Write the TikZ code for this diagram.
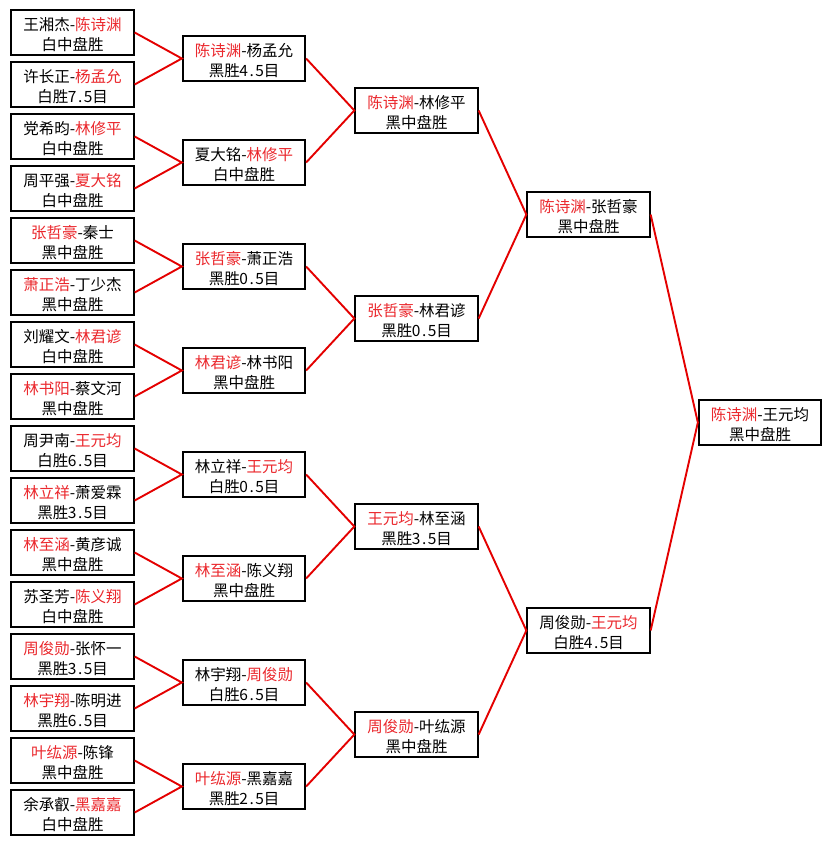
\documentclass[tikz,border=0pt]{standalone}
\usepackage{fontspec}
\setmainfont{Noto Sans CJK SC}
\definecolor{wred}{RGB}{235,40,45}
\definecolor{lred}{RGB}{228,0,0}
\newcommand\R[1]{\textcolor{wred}{#1}}
\newcommand\hw[1]{\makebox[8pt]{#1}}
\newcommand\G[4]{\node[game] (#1) at (#2,#3) {}; \node[gtext] at ([yshift=-2.5pt]#1.center) {#4};}
\tikzset{
  game/.style={draw=black, line width=1.8pt, fill=white, rectangle, minimum width=122.5pt, minimum height=44.5pt, inner sep=0pt},
  gtext/.style={inner sep=0pt, align=center, font=\fontsize{15.5}{20}\selectfont},
  link/.style={draw=lred, line width=1.9pt}
}
\begin{document}
\begin{tikzpicture}[x=1pt,y=-1pt]
\useasboundingbox[fill=white] (0,0) rectangle (831,845);
% column 1
\G{a1}{72.5}{32.5}{王湘杰-\R{陈诗渊}\\白中盘胜}
\G{a2}{72.5}{84.5}{许长正-\R{杨孟允}\\白胜\hw{7}\hw{.}\hw{5}目}
\G{a3}{72.5}{136.5}{党希昀-\R{林修平}\\白中盘胜}
\G{a4}{72.5}{188.5}{周平强-\R{夏大铭}\\白中盘胜}
\G{a5}{72.5}{240.5}{\R{张哲豪}-秦士\\黑中盘胜}
\G{a6}{72.5}{292.5}{\R{萧正浩}-丁少杰\\黑中盘胜}
\G{a7}{72.5}{344.5}{刘耀文-\R{林君谚}\\白中盘胜}
\G{a8}{72.5}{396.5}{\R{林书阳}-蔡文河\\黑中盘胜}
\G{a9}{72.5}{448.5}{周尹南-\R{王元均}\\白胜\hw{6}\hw{.}\hw{5}目}
\G{a10}{72.5}{500.5}{\R{林立祥}-萧爱霖\\黑胜\hw{3}\hw{.}\hw{5}目}
\G{a11}{72.5}{552.5}{\R{林至涵}-黄彦诚\\黑中盘胜}
\G{a12}{72.5}{604.5}{苏圣芳-\R{陈义翔}\\白中盘胜}
\G{a13}{72.5}{656.5}{\R{周俊勋}-张怀一\\黑胜\hw{3}\hw{.}\hw{5}目}
\G{a14}{72.5}{708.5}{\R{林宇翔}-陈明进\\黑胜\hw{6}\hw{.}\hw{5}目}
\G{a15}{72.5}{760.5}{\R{叶纮源}-陈锋\\黑中盘胜}
\G{a16}{72.5}{812.5}{余承叡-\R{黑嘉嘉}\\白中盘胜}
% column 2
\G{b1}{244}{58.5}{\R{陈诗渊}-杨孟允\\黑胜\hw{4}\hw{.}\hw{5}目}
\G{b2}{244}{162.5}{夏大铭-\R{林修平}\\白中盘胜}
\G{b3}{244}{266.5}{\R{张哲豪}-萧正浩\\黑胜\hw{0}\hw{.}\hw{5}目}
\G{b4}{244}{370.5}{\R{林君谚}-林书阳\\黑中盘胜}
\G{b5}{244}{474.5}{林立祥-\R{王元均}\\白胜\hw{0}\hw{.}\hw{5}目}
\G{b6}{244}{578.5}{\R{林至涵}-陈义翔\\黑中盘胜}
\G{b7}{244}{682.5}{林宇翔-\R{周俊勋}\\白胜\hw{6}\hw{.}\hw{5}目}
\G{b8}{244}{786.5}{\R{叶纮源}-黑嘉嘉\\黑胜\hw{2}\hw{.}\hw{5}目}
% column 3
\G{c1}{416.5}{110.5}{\R{陈诗渊}-林修平\\黑中盘胜}
\G{c2}{416.5}{318.5}{\R{张哲豪}-林君谚\\黑胜\hw{0}\hw{.}\hw{5}目}
\G{c3}{416.5}{526.5}{\R{王元均}-林至涵\\黑胜\hw{3}\hw{.}\hw{5}目}
\G{c4}{416.5}{734.5}{\R{周俊勋}-叶纮源\\黑中盘胜}
% column 4
\G{d1}{588.5}{214.5}{\R{陈诗渊}-张哲豪\\黑中盘胜}
\G{d2}{588.5}{630.5}{周俊勋-\R{王元均}\\白胜\hw{4}\hw{.}\hw{5}目}
% column 5
\G{e1}{760}{422.5}{\R{陈诗渊}-王元均\\黑中盘胜}
% connectors
\foreach \p/\x/\y in {b1/a1/a2, b2/a3/a4, b3/a5/a6, b4/a7/a8, b5/a9/a10, b6/a11/a12, b7/a13/a14, b8/a15/a16, c1/b1/b2, c2/b3/b4, c3/b5/b6, c4/b7/b8, d1/c1/c2, d2/c3/c4, e1/d1/d2}{
  \draw[link] (\x.east) -- (\p.west) -- (\y.east);
}
\end{tikzpicture}
\end{document}
